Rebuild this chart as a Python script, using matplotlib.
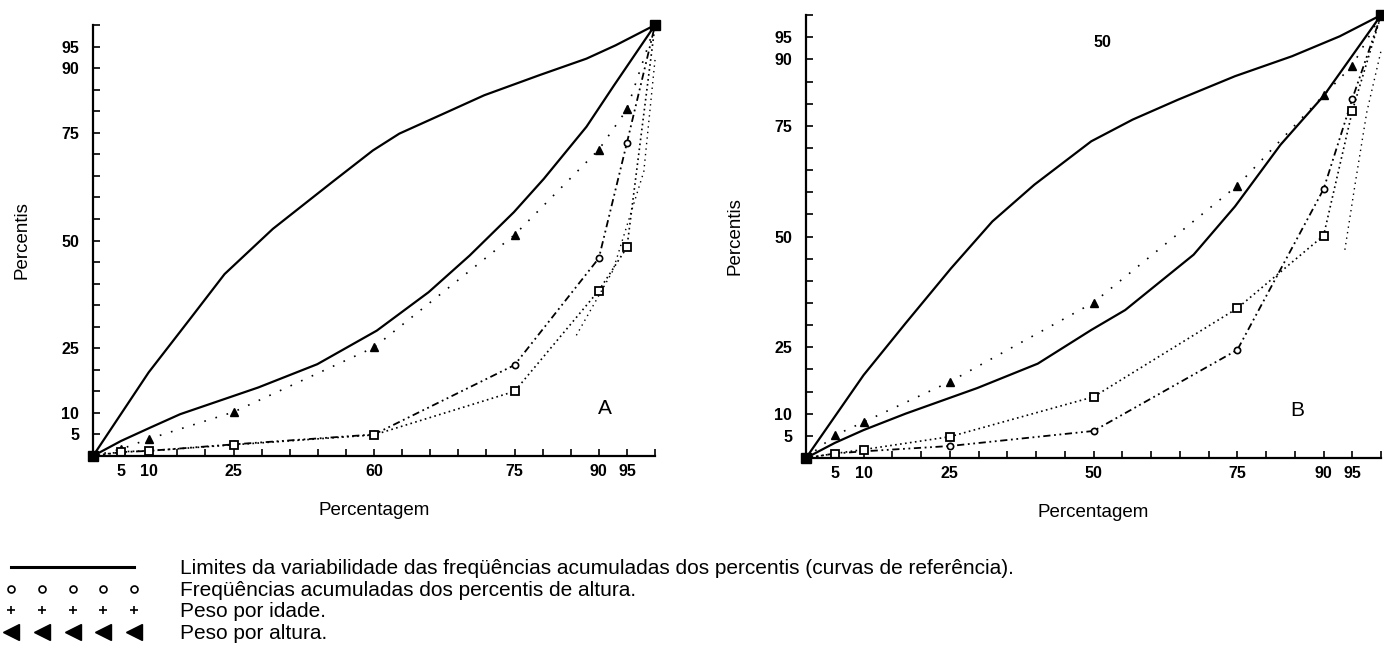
import matplotlib
matplotlib.use('Agg')
import matplotlib.pyplot as plt
from matplotlib.lines import Line2D

plt.rcParams['font.family'] = ['Liberation Sans', 'DejaVu Sans']

# dados
pct = [0, 5, 10, 25, 50, 75, 90, 95, 100]
tick_pos = [5, 10, 25, 50, 75, 90, 95]
xlabels_a = ['5', '10', '25', '60', '75', '90', '95']
xlabels_b = ['5', '10', '25', '50', '75', '90', '95']
ylabels = ['5', '10', '25', '50', '75', '90', '95']

# curvas de referência (limites) - painel A
ref_sup_a_x = [0, 9.9, 17.5, 23.4, 32, 42.6, 49.8, 54.5, 63, 69.6, 79.5, 87.8, 93, 100]
ref_sup_a_y = [0, 19.4, 32.2, 42.2, 52.7, 63.6, 70.9, 74.8, 79.8, 83.7, 88.4, 92.2, 95.3, 100]
ref_inf_a_x = [0, 5, 10.2, 15.5, 29.4, 39.9, 45.2, 50.5, 59.7, 67, 74.9, 80.2, 87.8, 92.7, 100]
ref_inf_a_y = [0, 3.5, 6.6, 9.7, 15.9, 21.3, 25.2, 29.1, 38, 46.5, 56.6, 64.3, 76.4, 86, 100]

# painel B
ref_sup_b_x = [0, 10, 17.3, 25.2, 32.4, 39.7, 49.6, 56.8, 64.7, 74.6, 84.5, 92.8, 100]
ref_sup_b_y = [0, 18.7, 30.4, 42.8, 53.4, 61.7, 71.5, 76.4, 80.9, 86.2, 90.7, 95.2, 100]
ref_inf_b_x = [0, 5, 10, 17.3, 29.8, 40.3, 49.6, 55.5, 67.4, 74.6, 82.5, 90.1, 100]
ref_inf_b_y = [0, 3.4, 6.3, 10, 15.8, 21.3, 28.9, 33.4, 45.9, 56.8, 70.7, 81.9, 100]

# séries observadas
peso_idade_a = [0, 1.6, 4.0, 10.2, 25.2, 51.3, 71.1, 80.4, 100]
altura_a = [0, 0.9, 1.2, 2.7, 5.0, 21.1, 45.9, 72.7, 100]
peso_altura_a = [0, 1.0, 1.2, 2.6, 4.9, 15.0, 38.4, 48.4, 100]
extra_a_x = [86, 92.5, 98, 100]
extra_a_y = [28, 43, 66, 92]

peso_idade_b = [0, 5.1, 8.1, 17.2, 35.1, 61.5, 81.9, 88.6, 100]
altura_b = [0, 1.0, 1.5, 2.7, 6.1, 24.4, 60.7, 81.1, 100]
peso_altura_b = [0, 1.0, 1.9, 4.8, 13.8, 33.8, 50.2, 78.4, 100]
extra_b_x = [93.7, 95.5, 97.5, 100]
extra_b_y = [47, 62, 78, 92]

fig = plt.figure(figsize=(13.84, 6.55), dpi=100)
ax_a = fig.add_axes([0.0672, 0.3038, 0.4061, 0.658])
ax_b = fig.add_axes([0.5824, 0.3008, 0.4155, 0.6762])


def desenha(ax, sup_x, sup_y, inf_x, inf_y, pi, alt, pa, ex_x, ex_y, xlabels, letra, ly):
    ax.plot(sup_x, sup_y, color='black', lw=1.6, clip_on=False)
    ax.plot(inf_x, inf_y, color='black', lw=1.6, clip_on=False)
    ax.plot(pct, pi, color='black', lw=1.2, ls=(0, (1, 6)), marker='^', ms=6,
            markevery=list(range(1, 8)), clip_on=False)
    ax.plot(pct, alt, color='black', lw=1.3, ls=(0, (4, 2, 1, 2, 1, 2)), marker='o', ms=4.5,
            mfc='white', mew=1.2, markevery=list(range(3, 8)), clip_on=False)
    ax.plot(pct, pa, color='black', lw=1.2, ls=(0, (1, 2)), marker='s', ms=6,
            mfc='white', mew=1.3, markevery=list(range(1, 8)), clip_on=False)
    ax.plot(ex_x, ex_y, color='black', lw=1.0, ls=(0, (1, 3)), clip_on=False)
    ax.plot([0, 100], [0, 100], ls='none', marker='s', ms=7, color='black', clip_on=False)

    ax.set_xlim(0, 100)
    ax.set_ylim(0, 100)
    for s in ['top', 'right']:
        ax.spines[s].set_visible(False)
    ax.spines['left'].set_linewidth(1.6)
    ax.spines['bottom'].set_linewidth(1.6)
    ax.set_xticks(tick_pos)
    ax.set_xticklabels(xlabels, fontweight='bold', fontsize=11.5)
    ax.set_yticks(tick_pos)
    ax.set_yticklabels(ylabels, fontweight='bold', fontsize=11.5)
    ax.set_xticks(range(0, 101, 5), minor=True)
    ax.set_yticks(range(0, 101, 5), minor=True)
    ax.tick_params(axis='both', which='both', direction='in', length=5, width=1.2)
    ax.tick_params(axis='y', which='major', pad=10)
    ax.tick_params(axis='x', which='major', pad=6)
    ax.set_xlabel('Percentagem', fontsize=13.5, labelpad=16)
    ax.set_ylabel('Percentis', fontsize=13.5, labelpad=22)
    ax.text(ly[0], ly[1], letra, fontsize=15, ha='center', va='center')


desenha(ax_a, ref_sup_a_x, ref_sup_a_y, ref_inf_a_x, ref_inf_a_y,
        peso_idade_a, altura_a, peso_altura_a, extra_a_x, extra_a_y, xlabels_a, 'A', (91, 11))
desenha(ax_b, ref_sup_b_x, ref_sup_b_y, ref_inf_b_x, ref_inf_b_y,
        peso_idade_b, altura_b, peso_altura_b, extra_b_x, extra_b_y, xlabels_b, 'B', (85.5, 10.8))
ax_b.text(51.5, 93.7, '50', fontsize=11.5, fontweight='bold', ha='center', va='center')

# legenda
handles = [
    Line2D([], [], color='black', lw=2.2),
    Line2D([], [], ls='none', marker='o', ms=5, mfc='white', mec='black', mew=1.2),
    Line2D([], [], ls='none', marker='+', ms=6, color='black', mew=1.2),
    Line2D([], [], ls='none', marker='<', ms=11, color='black'),
]
labels = [
    'Limites da variabilidade das freqüências acumuladas dos percentis (curvas de referência).',
    'Freqüências acumuladas dos percentis de altura.',
    'Peso por idade.',
    'Peso por altura.',
]
fig.legend(handles, labels, loc='upper left', bbox_to_anchor=(0.0036, 0.146), numpoints=5,
           handlelength=6.5, handletextpad=1.9, labelspacing=0.12, fontsize=15, frameon=False,
           borderaxespad=0, borderpad=0)

fig.savefig('out.png', dpi=100)
